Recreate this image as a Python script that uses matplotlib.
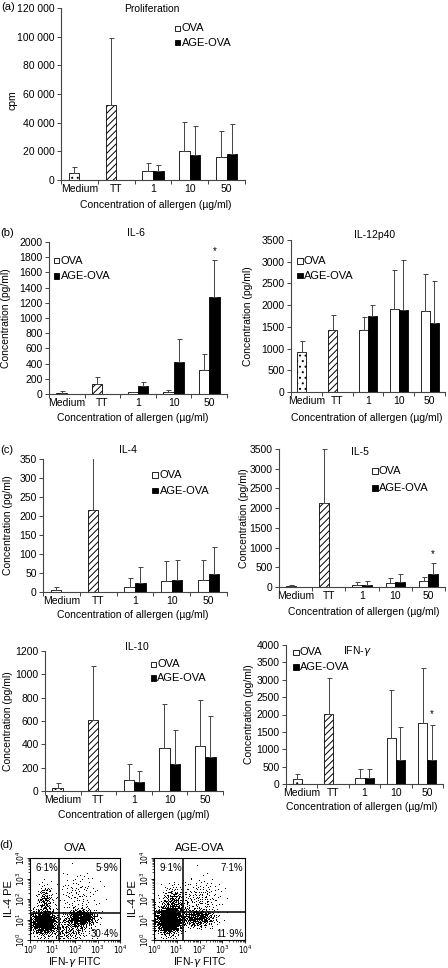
import numpy as np
import matplotlib
matplotlib.use("Agg")
import matplotlib.pyplot as plt
from matplotlib.patches import Rectangle
from matplotlib.ticker import FixedLocator, NullFormatter, LogLocator

plt.rcParams['font.family'] = ['Liberation Sans', 'DejaVu Sans']
plt.rcParams['hatch.linewidth'] = 0.7
plt.rcParams['mathtext.fontset'] = 'dejavusans'

# ---------------- data ----------------
categories = ["Medium", "TT", "1", "10", "50"]

# (a) Proliferation (cpm)
prolif_med, prolif_med_sd = 5000, 4000
prolif_tt, prolif_tt_sd = 52000, 46800
prolif_ova = [6500, 20000, 16200]
prolif_ova_sd = [5200, 20500, 18000]
prolif_age = [6500, 17500, 18000]
prolif_age_sd = [4300, 20000, 20800]

# (b) IL-6
il6_med, il6_med_sd = 15, 20
il6_tt, il6_tt_sd = 125, 95
il6_ova = [20, 25, 310]
il6_ova_sd = [8, 25, 215]
il6_age = [110, 420, 1280]
il6_age_sd = [45, 300, 480]

# (b) IL-12p40
il12_med, il12_med_sd = 910, 270
il12_tt, il12_tt_sd = 1420, 360
il12_ova = [1430, 1920, 1870]
il12_ova_sd = [300, 890, 850]
il12_age = [1750, 1880, 1590]
il12_age_sd = [250, 1170, 970]

# (c) IL-4
il4_med, il4_med_sd = 5, 7
il4_tt, il4_tt_sd = 215, 137
il4_ova = [13, 29, 31]
il4_ova_sd = [23, 52, 53]
il4_age = [23, 32, 47]
il4_age_sd = [42, 52, 72]

# (c) IL-5
il5_med, il5_med_sd = 25, 25
il5_tt, il5_tt_sd = 2130, 1370
il5_ova = [50, 90, 160]
il5_ova_sd = [70, 140, 100]
il5_age = [50, 130, 340]
il5_age_sd = [100, 200, 280]

# (c) IL-10
il10_med, il10_med_sd = 30, 35
il10_tt, il10_tt_sd = 605, 470
il10_ova = [95, 365, 390]
il10_ova_sd = [135, 385, 390]
il10_age = [80, 235, 290]
il10_age_sd = [90, 285, 355]

# (c) IFN-gamma
ifn_med, ifn_med_sd = 145, 145
ifn_tt, ifn_tt_sd = 2010, 1050
ifn_ova = [165, 1320, 1750]
ifn_ova_sd = [270, 1390, 1580]
ifn_age = [170, 700, 700]
ifn_age_sd = [260, 950, 1000]

# (d) flow cytometry quadrant percentages [UL, UR, LR]
flow_titles = ["OVA", "AGE-OVA"]
flow_pct = [["6·1%", "5·9%", "30·4%"], ["9·1%", "7·1%", "11·9%"]]
flow_gate_x = [20, 19]
flow_gate_y = [21, 22]
# cell populations: (log10 x centre, log10 y centre, sd x, sd y, n)
flow_clusters_ova = [(0.6, 0.85, 0.28, 0.30, 900),
                     (2.25, 1.05, 0.33, 0.20, 600),
                     (0.65, 1.9, 0.18, 0.40, 160),
                     (2.1, 2.2, 0.5, 0.55, 110),
                     (1.7, 0.45, 0.5, 0.25, 220)]
flow_clusters_age = [(0.65, 0.95, 0.28, 0.33, 1300),
                     (0.85, 1.8, 0.28, 0.40, 260),
                     (1.9, 1.05, 0.40, 0.22, 420),
                     (2.0, 2.0, 0.5, 0.5, 170)]

# ---------------- figure ----------------
W, H = 448, 968
fig = plt.figure(figsize=(W / 100, H / 100), dpi=100)


def add_ax(l, t, r, b):
    return fig.add_axes([l / W, 1 - b / H, (r - l) / W, (b - t) / H])


def ftext(x, y, s, **kw):
    kw.setdefault('fontsize', 7.5)
    kw.setdefault('ha', 'center')
    kw.setdefault('va', 'center')
    fig.text(x / W, 1 - y / H, s, **kw)


def legend_px(x, y1, y2, tx):
    for yy, fc, lab in [(y1, 'white', 'OVA'), (y2, 'black', 'AGE-OVA')]:
        s = 5.5
        fig.add_artist(Rectangle(((x - s / 2) / W, 1 - (yy + s / 2) / H), s / W, s / H,
                                 transform=fig.transFigure, facecolor=fc,
                                 edgecolor='black', linewidth=0.6))
        ftext(tx, yy, lab, ha='left', fontsize=8)


def bar_panel(ax, ymax, step, med, med_sd, tt, tt_sd, ova, ova_sd, age, age_sd,
              fmt=None, star=False, star_off=0.0):
    w = 0.29
    lw = 0.6
    ax.bar(0 - w / 2, med, w, color='white', edgecolor='black', linewidth=lw, hatch='...')
    ax.bar(1 - w / 2, tt, w, color='white', edgecolor='black', linewidth=lw, hatch='/////')
    xo = np.array([2, 3, 4]) - w / 2
    xa = np.array([2, 3, 4]) + w / 2
    ax.bar(xo, ova, w, color='white', edgecolor='black', linewidth=lw)
    ax.bar(xa, age, w, color='black', edgecolor='black', linewidth=lw)
    ex = np.concatenate([[0 - w / 2, 1 - w / 2], xo, xa])
    ey = np.concatenate([[med, tt], ova, age])
    es = np.concatenate([[med_sd, tt_sd], ova_sd, age_sd])
    ax.errorbar(ex, ey, yerr=[np.zeros_like(es), es], fmt='none', ecolor='#444444',
                elinewidth=0.7, capsize=1.8, capthick=0.7)
    if star:
        ax.text(xa[2], age[2] + age_sd[2] + star_off, '*', ha='center', va='bottom',
                fontsize=7)
    ax.set_xlim(-0.5, 4.5)
    ax.set_ylim(0, ymax)
    ax.set_yticks(np.arange(0, ymax + 1, step))
    if fmt:
        ax.set_yticklabels([fmt(v) for v in np.arange(0, ymax + 1, step)])
    ax.set_xticks(np.arange(5))
    ax.set_xticklabels(categories)
    ax.xaxis.set_minor_locator(FixedLocator(np.arange(-0.5, 5, 1)))
    ax.tick_params(axis='x', which='major', length=0, labelsize=7.5, pad=3)
    ax.tick_params(axis='x', which='minor', length=3, width=0.7, color='#444444')
    ax.tick_params(axis='y', length=3, width=0.7, labelsize=7.5, pad=1.5, color='#444444')
    for sp in ['top', 'right']:
        ax.spines[sp].set_visible(False)
    for sp in ['left', 'bottom']:
        ax.spines[sp].set_linewidth(0.8)
        ax.spines[sp].set_color('#444444')


xlab = "Concentration of allergen (µg/ml)"
ylab = "Concentration (pg/ml)"

# (a)
ax = add_ax(61, 8, 245, 180)
bar_panel(ax, 120000, 20000, prolif_med, prolif_med_sd, prolif_tt, prolif_tt_sd,
          prolif_ova, prolif_ova_sd, prolif_age, prolif_age_sd,
          fmt=lambda v: f"{int(v):,}".replace(",", " "))
ftext(152, 9, "Proliferation")
ftext(8, 7, "(a)", fontsize=8)
ftext(12, 100, "cpm", rotation=90)
ftext(156, 205, xlab)
legend_px(177.7, 28.3, 42.7, 181.5)

# (b) IL-6
ax = add_ax(49, 242, 227, 394)
bar_panel(ax, 2000, 200, il6_med, il6_med_sd, il6_tt, il6_tt_sd,
          il6_ova, il6_ova_sd, il6_age, il6_age_sd, star=True, star_off=60)
ftext(136, 233, "IL-6")
ftext(7, 233, "(b)", fontsize=8)
ftext(6, 318, ylab, rotation=90)
ftext(133, 418, xlab)
legend_px(56.7, 260.7, 276, 60.5)

# (b) IL-12p40
ax = add_ax(291, 240, 445, 392)
bar_panel(ax, 3500, 500, il12_med, il12_med_sd, il12_tt, il12_tt_sd,
          il12_ova, il12_ova_sd, il12_age, il12_age_sd)
ftext(375, 235, "IL-12p40")
ftext(248, 316, ylab, rotation=90)
ftext(367, 418, xlab)
legend_px(300, 261, 275.7, 303.5)

# (c) IL-4
ax = add_ax(43, 459, 227, 592)
bar_panel(ax, 350, 50, il4_med, il4_med_sd, il4_tt, il4_tt_sd,
          il4_ova, il4_ova_sd, il4_age, il4_age_sd)
ftext(128, 450, "IL-4")
ftext(7, 450, "(c)", fontsize=8)
ftext(8, 525, ylab, rotation=90)
ftext(133, 615, xlab)
legend_px(155, 475, 490.7, 159.5)

# (c) IL-5
ax = add_ax(279, 449, 445, 587)
bar_panel(ax, 3500, 500, il5_med, il5_med_sd, il5_tt, il5_tt_sd,
          il5_ova, il5_ova_sd, il5_age, il5_age_sd, star=True, star_off=100)
ftext(360, 452, "IL-5")
ftext(244, 518, ylab, rotation=90)
ftext(364, 612, xlab)
legend_px(375, 471, 488, 378.5)

# (c) IL-10
ax = add_ax(45, 651, 223, 791)
bar_panel(ax, 1200, 200, il10_med, il10_med_sd, il10_tt, il10_tt_sd,
          il10_ova, il10_ova_sd, il10_age, il10_age_sd)
ftext(137, 647, "IL-10")
ftext(8, 721, ylab, rotation=90)
ftext(134, 815, xlab)
legend_px(153.3, 664.3, 678, 157)

# (c) IFN-gamma
ax = add_ax(286, 645, 443, 784)
bar_panel(ax, 4000, 500, ifn_med, ifn_med_sd, ifn_tt, ifn_tt_sd,
          ifn_ova, ifn_ova_sd, ifn_age, ifn_age_sd, star=True, star_off=180)
ftext(357, 651, r"IFN-$\gamma$")
ftext(249, 714, ylab, rotation=90)
ftext(362, 807, xlab)
legend_px(296, 652.3, 667, 300)


# (d) flow cytometry
def halton(n, base, start):
    out = np.empty(n)
    for k in range(n):
        i = k + start
        f, r = 1.0, 0.0
        while i > 0:
            f /= base
            r += f * (i % base)
            i //= base
        out[k] = r
    return out


def cluster_points(clusters, seed_offset):
    xs, ys = [], []
    start = 1 + seed_offset
    for (cx, cy, sx, sy, n) in clusters:
        u1 = halton(n, 2, start)
        u2 = halton(n, 3, start)
        start += n + 37
        u1 = np.clip(u1, 1e-4, 1)
        r = np.sqrt(-2 * np.log(u1))
        z1 = r * np.cos(2 * np.pi * u2)
        z2 = r * np.sin(2 * np.pi * u2)
        xs.append(cx + sx * z1)
        ys.append(cy + sy * z2)
    x = np.clip(np.concatenate(xs), 0.03, 3.97)
    y = np.clip(np.concatenate(ys), 0.03, 3.97)
    return 10 ** x, 10 ** y


flow_boxes = [(30, 858, 120, 940), (154, 858, 245, 940)]
flow_clusters = [flow_clusters_ova, flow_clusters_age]
tick_labs = [r"$10^{0}$", r"$10^{1}$", r"$10^{2}$", r"$10^{3}$", r"$10^{4}$"]
for i in range(2):
    l, t, r, b = flow_boxes[i]
    ax = add_ax(l, t, r, b)
    px, py = cluster_points(flow_clusters[i], 11 + 500 * i)
    ax.plot(px, py, ',', color='black')
    ax.set_xscale('log')
    ax.set_yscale('log')
    ax.set_xlim(1, 1e4)
    ax.set_ylim(1, 1e4)
    ax.axvline(flow_gate_x[i], color='black', lw=1.1)
    ax.axhline(flow_gate_y[i], color='black', lw=1.1)
    ax.set_xticks([1, 10, 100, 1000, 10000])
    ax.set_xticklabels(tick_labs)
    ax.set_yticks([1, 10, 100, 1000, 10000])
    ax.set_yticklabels(tick_labs, rotation=90, va='center')
    ax.xaxis.set_minor_locator(LogLocator(base=10, subs=np.arange(2, 10), numticks=10))
    ax.yaxis.set_minor_locator(LogLocator(base=10, subs=np.arange(2, 10), numticks=10))
    ax.xaxis.set_minor_formatter(NullFormatter())
    ax.yaxis.set_minor_formatter(NullFormatter())
    ax.tick_params(which='major', length=2, width=0.6, labelsize=5.5, pad=0.5)
    ax.tick_params(which='minor', length=1.2, width=0.5)
    for sp in ax.spines.values():
        sp.set_linewidth(0.8)
    ftext((l + r) / 2, 848, flow_titles[i], fontsize=8)
    ftext(l - 21, (t + b) / 2, "IL-4 PE", rotation=90, fontsize=8)
    ftext((l + r) / 2, 962, r"IFN-$\gamma$ FITC", fontsize=7.5)
    p = flow_pct[i]
    ftext(l + 5, 868, p[0], ha='left', fontsize=7)
    ftext(r - 2, 868, p[1], ha='right', fontsize=7)
    ftext(r - 1, 934, p[2], ha='right', fontsize=7)

ftext(6, 845, "(d)", fontsize=8)

fig.savefig("out.png", dpi=100)
